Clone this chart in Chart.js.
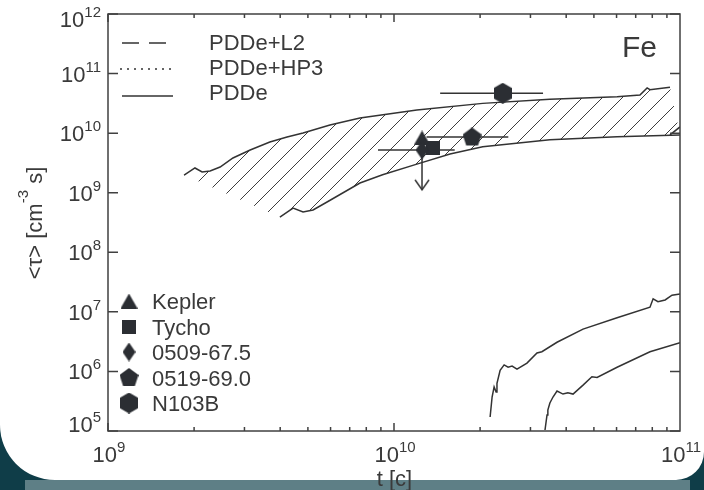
<!DOCTYPE html>
<html>
<head>
<meta charset="utf-8">
<script src="https://cdn.jsdelivr.net/npm/chart.js@4.4.0/dist/chart.umd.min.js"></script>
<style>
  html, body { margin: 0; padding: 0; background: #0f3d48; }
  #wrap { width: 704px; height: 490px; }
</style>
</head>
<body>
<div id="wrap"><canvas id="chart"></canvas></div>
<script>
// PDDe band, upper edge
const upperT = [1.845e9, 2.014e9, 2.133e9, 2.275e9, 2.466e9, 2.735e9, 3.141e9, 3.681e9, 4.227e9, 4.808e9,
  5.97e9, 7.603e9, 1.202e10, 2.042e10, 3.508e10, 6.026e10, 7.244e10, 7.674e10, 7.852e10, 9.226e10];
const upperTau = [1.98e9, 2.6e9, 2.23e9, 2.32e9, 2.7e9, 3.83e9, 5.22e9, 7.11e9, 8.63e9, 1.007e10,
  1.374e10, 1.8e10, 2.45e10, 3.16e10, 3.72e10, 4.07e10, 4.37e10, 5.75e10, 5.37e10, 5.89e10];

// PDDe band, lower edge
const lowerT = [3.99e9, 4.436e9, 4.808e9, 5.212e9, 5.834e9, 7.603e9, 9.12e9, 1.202e10, 1.57e10, 2.042e10,
  3.508e10, 6.026e10, 1e11];
const lowerTau = [3.91e8, 5.53e8, 4.74e8, 5.13e8, 6.98e8, 1.455e9, 2.0e9, 3.02e9, 4.47e9, 5.89e9,
  7.76e9, 8.71e9, 9.33e9];

const stubT = [9.226e10, 1e11];
const stubTau = [9.33e9, 1.27e10];

// the two curves at the bottom right
const curveAT = [2.168e10, 2.203e10, 2.239e10, 2.275e10, 2.291e10, 2.35e10, 2.427e10, 2.506e10, 2.588e10, 2.692e10,
  2.917e10, 3.162e10, 3.289e10, 3.715e10, 4.581e10, 6.026e10, 7.852e10, 8.054e10, 8.375e10, 8.872e10, 9.376e10, 1e11];
const curveATau = [1.72e5, 3.72e5, 5.5e5, 4.52e5, 6.31e5, 1.047e6, 1.288e6, 1.175e6, 1.23e6, 1.096e6,
  1.38e6, 2.04e6, 2.14e6, 3.09e6, 5.13e6, 7.94e6, 1.2e7, 1.66e7, 1.48e7, 1.585e7, 1.905e7, 2.0e7];

const curveBT = [3.373e10, 3.428e10, 3.451e10, 3.508e10, 3.597e10, 3.715e10, 3.899e10, 4.055e10, 4.227e10, 4.581e10,
  4.92e10, 5.129e10, 6.026e10, 7.852e10, 1e11];
const curveBTau = [1.04e5, 1.86e5, 2.24e5, 2.95e5, 3.72e5, 4.68e5, 4.17e5, 4.37e5, 4.17e5, 5.89e5,
  8.13e5, 7.94e5, 1.175e6, 2.14e6, 3.02e6];

// remnants
const snrNames = ['Kepler', 'Tycho', '0509-67.5', '0519-69.0', 'N103B'];
const snrShapes = ['triangle', 'square', 'diamond', 'pentagon', 'hexagon'];
const snrT = [1.253e10, 1.37e10, 1.253e10, 1.875e10, 2.4e10];
const snrTau = [8.3e9, 5.6e9, 5.2e9, 8.63e9, 4.68e10];
const snrTLo = [null, null, 8.79e9, 1.3e10, 1.45e10];
const snrTHi = [null, null, 1.63e10, 2.51e10, 3.32e10];
const snrTauLimit = [null, null, 1.12e9, null, null];

const lineNames = ['PDDe+L2', 'PDDe+HP3', 'PDDe'];
const lineDashes = [[17, 10], [2, 5], []];

const ink = '#2b2e33';
const txt = '#3a3a3a';
const font = '"Liberation Sans", Arial, sans-serif';

function makeMarker(kind) {
  const c = document.createElement('canvas');
  let pts = [];
  if (kind === 'triangle') {
    c.width = 17; c.height = 15;
    pts = [[8.5, 0], [17, 15], [0, 15]];
  } else if (kind === 'square') {
    c.width = 14; c.height = 14;
    pts = [[0, 0], [14, 0], [14, 14], [0, 14]];
  } else if (kind === 'diamond') {
    c.width = 13; c.height = 19;
    pts = [[6.5, 0], [13, 9.5], [6.5, 19], [0, 9.5]];
  } else if (kind === 'pentagon') {
    c.width = 19; c.height = 19;
    for (let i = 0; i < 5; i++) {
      const a = -Math.PI / 2 + i * 2 * Math.PI / 5;
      pts.push([9.5 + 10 * Math.cos(a), 10 + 10 * Math.sin(a)]);
    }
  } else {
    c.width = 18; c.height = 21;
    for (let i = 0; i < 6; i++) {
      const a = -Math.PI / 2 + i * Math.PI / 3;
      pts.push([9 + 10.5 * Math.cos(a), 10.5 + 10.5 * Math.sin(a)]);
    }
  }
  const g = c.getContext('2d');
  g.fillStyle = ink;
  g.beginPath();
  pts.forEach((p, i) => (i ? g.lineTo(p[0], p[1]) : g.moveTo(p[0], p[1])));
  g.closePath();
  g.fill();
  return c;
}

function makeArrowHead() {
  const c = document.createElement('canvas');
  c.width = 16; c.height = 24;
  const g = c.getContext('2d');
  g.strokeStyle = '#333';
  g.lineWidth = 1.5;
  g.beginPath();
  g.moveTo(1, 2);
  g.lineTo(8, 12);
  g.lineTo(15, 2);
  g.stroke();
  return c;
}

const markers = {};
snrShapes.forEach((s) => (markers[s] = makeMarker(s)));
const arrowHead = makeArrowHead();

const canvas = document.getElementById('chart');
const ctx0 = canvas.getContext('2d');

const tile = document.createElement('canvas');
tile.width = 20; tile.height = 20;
const tg = tile.getContext('2d');
tg.strokeStyle = '#3d3d3d';
tg.lineWidth = 1;
tg.beginPath();
tg.moveTo(-2, 22); tg.lineTo(22, -2);
tg.stroke();
const hatch = ctx0.createPattern(tile, 'repeat');

const pts = (xs, ys) => xs.map((x, i) => ({ x: x, y: ys[i] }));

const curveStyle = { borderColor: '#333', borderWidth: 1.5, pointRadius: 0, fill: false };

const datasets = [
  {
    data: pts(snrT, snrTau),
    showLine: false,
    pointRadius: 9,
    pointStyle: snrShapes.map((s) => markers[s]),
  },
];

snrNames.forEach((n, i) => {
  if (snrTLo[i] !== null) {
    datasets.push(Object.assign({}, curveStyle, {
      data: [{ x: snrTLo[i], y: snrTau[i] }, { x: snrTHi[i], y: snrTau[i] }],
    }));
  }
  if (snrTauLimit[i] !== null) {
    datasets.push(Object.assign({}, curveStyle, {
      data: [{ x: snrT[i], y: snrTau[i] }, { x: snrT[i], y: snrTauLimit[i] }],
      pointRadius: [0, 6],
      pointStyle: arrowHead,
    }));
  }
});

datasets.push(Object.assign({}, curveStyle, { data: pts(upperT, upperTau) }));
datasets.push(Object.assign({}, curveStyle, { data: pts(lowerT, lowerTau) }));
datasets.push(Object.assign({}, curveStyle, { data: pts(stubT, stubTau) }));
datasets.push(Object.assign({}, curveStyle, { data: pts(curveAT, curveATau) }));
datasets.push(Object.assign({}, curveStyle, { data: pts(curveBT, curveBTau) }));
datasets.push({
  data: pts(upperT, upperTau).concat(pts(lowerT, lowerTau).reverse()),
  borderColor: 'rgba(0,0,0,0)',
  borderWidth: 0,
  pointRadius: 0,
  backgroundColor: hatch,
  fill: 'shape',
});

function powLabel(ctx, exp, x, y, align) {
  ctx.font = '22px ' + font;
  const w1 = ctx.measureText('10').width;
  ctx.font = '15px ' + font;
  const w2 = ctx.measureText(String(exp)).width;
  const x0 = align === 'right' ? x - w1 - w2 : x - (w1 + w2) / 2;
  ctx.textAlign = 'left';
  ctx.textBaseline = 'alphabetic';
  ctx.font = '22px ' + font;
  ctx.fillText('10', x0, y);
  ctx.font = '15px ' + font;
  ctx.fillText(String(exp), x0 + w1, y - 10);
}

const decor = {
  id: 'decor',
  beforeDraw(chart) {
    const ctx = chart.ctx;
    ctx.save();
    ctx.fillStyle = '#0f3d48';
    ctx.fillRect(0, 0, chart.width, chart.height);
    ctx.fillStyle = '#5e7f86';
    ctx.fillRect(25, 480, 665, 10);
    ctx.fillStyle = '#ffffff';
    ctx.beginPath();
    ctx.roundRect(0, -20, 704, 500, [0, 0, 28, 55]);
    ctx.fill();
    ctx.restore();
  },
  afterDraw(chart) {
    const ctx = chart.ctx;
    const a = chart.chartArea;
    const xs = chart.scales.x;
    const ys = chart.scales.y;
    ctx.save();

    // frame and ticks
    ctx.strokeStyle = '#404040';
    ctx.lineWidth = 1.5;
    ctx.strokeRect(a.left, a.top, a.right - a.left, a.bottom - a.top);
    ctx.beginPath();
    for (let e = 9; e <= 10; e++) {
      for (let m = 1; m <= 9; m++) {
        const px = xs.getPixelForValue(m * Math.pow(10, e));
        const len = m === 1 ? 8 : 4;
        ctx.moveTo(px, a.bottom); ctx.lineTo(px, a.bottom - len);
        ctx.moveTo(px, a.top); ctx.lineTo(px, a.top + len);
      }
    }
    for (let e = 5; e <= 12; e++) {
      const py = ys.getPixelForValue(Math.pow(10, e));
      ctx.moveTo(a.left, py); ctx.lineTo(a.left + 10, py);
      ctx.moveTo(a.right, py); ctx.lineTo(a.right - 10, py);
    }
    ctx.stroke();

    // tick labels
    ctx.fillStyle = txt;
    for (let e = 5; e <= 12; e++) {
      const py = ys.getPixelForValue(Math.pow(10, e));
      const yb = Math.min(Math.max(py + 8, a.top + 13), a.bottom + 1);
      powLabel(ctx, e, 101, yb, 'right');
    }
    for (let e = 9; e <= 11; e++) {
      const px = xs.getPixelForValue(Math.pow(10, e));
      powLabel(ctx, e, px + 1, a.bottom + 31, 'center');
    }

    // axis titles
    ctx.font = '22px ' + font;
    ctx.textAlign = 'center';
    ctx.fillText('t [c]', (a.left + a.right) / 2 + 0.5, 486);

    ctx.save();
    ctx.translate(42, 223);
    ctx.rotate(-Math.PI / 2);
    const p1 = '<\u03c4> [cm', p2 = '-3', p3 = ' s]';
    ctx.font = '22px ' + font;
    const w1 = ctx.measureText(p1).width, w3 = ctx.measureText(p3).width;
    ctx.font = '15px ' + font;
    const w2 = ctx.measureText(p2).width;
    let x0 = -(w1 + w2 + w3) / 2;
    ctx.textAlign = 'left';
    ctx.font = '22px ' + font;
    ctx.fillText(p1, x0, 0);
    ctx.font = '15px ' + font;
    ctx.fillText(p2, x0 + w1, -14);
    ctx.font = '22px ' + font;
    ctx.fillText(p3, x0 + w1 + w2, 0);
    ctx.restore();

    // element label
    ctx.font = '30px ' + font;
    ctx.textAlign = 'left';
    ctx.fillText('Fe', 622, 57);

    // line legend
    ctx.font = '22px ' + font;
    const lineY = [43, 69, 96];
    const textY = [50, 75, 100];
    const x0s = [122, 120, 122];
    const x1s = [166, 173, 173];
    lineNames.forEach((n, i) => {
      ctx.beginPath();
      ctx.setLineDash(lineDashes[i]);
      ctx.lineWidth = 1.5;
      ctx.strokeStyle = '#333';
      ctx.moveTo(x0s[i], lineY[i]);
      ctx.lineTo(x1s[i], lineY[i]);
      ctx.stroke();
      ctx.fillText(n, 209, textY[i]);
    });
    ctx.setLineDash([]);

    // marker legend
    snrNames.forEach((n, i) => {
      const yb = 309 + i * 25.5;
      const m = markers[snrShapes[i]];
      ctx.drawImage(m, 129 - m.width / 2, yb - 8 - m.height / 2);
      ctx.fillText(n, 152, yb);
    });

    ctx.restore();
  },
};

new Chart(canvas, {
  type: 'line',
  data: { datasets: datasets },
  options: {
    responsive: true,
    maintainAspectRatio: false,
    animation: false,
    devicePixelRatio: 1,
    events: [],
    layout: { padding: { left: 108, right: 24, top: 14, bottom: 59 } },
    scales: {
      x: { type: 'logarithmic', min: 1e9, max: 1e11, display: false },
      y: { type: 'logarithmic', min: 1e5, max: 1e12, display: false },
    },
    plugins: {
      legend: { display: false },
      tooltip: { enabled: false },
    },
  },
  plugins: [decor],
});
</script>
</body>
</html>
